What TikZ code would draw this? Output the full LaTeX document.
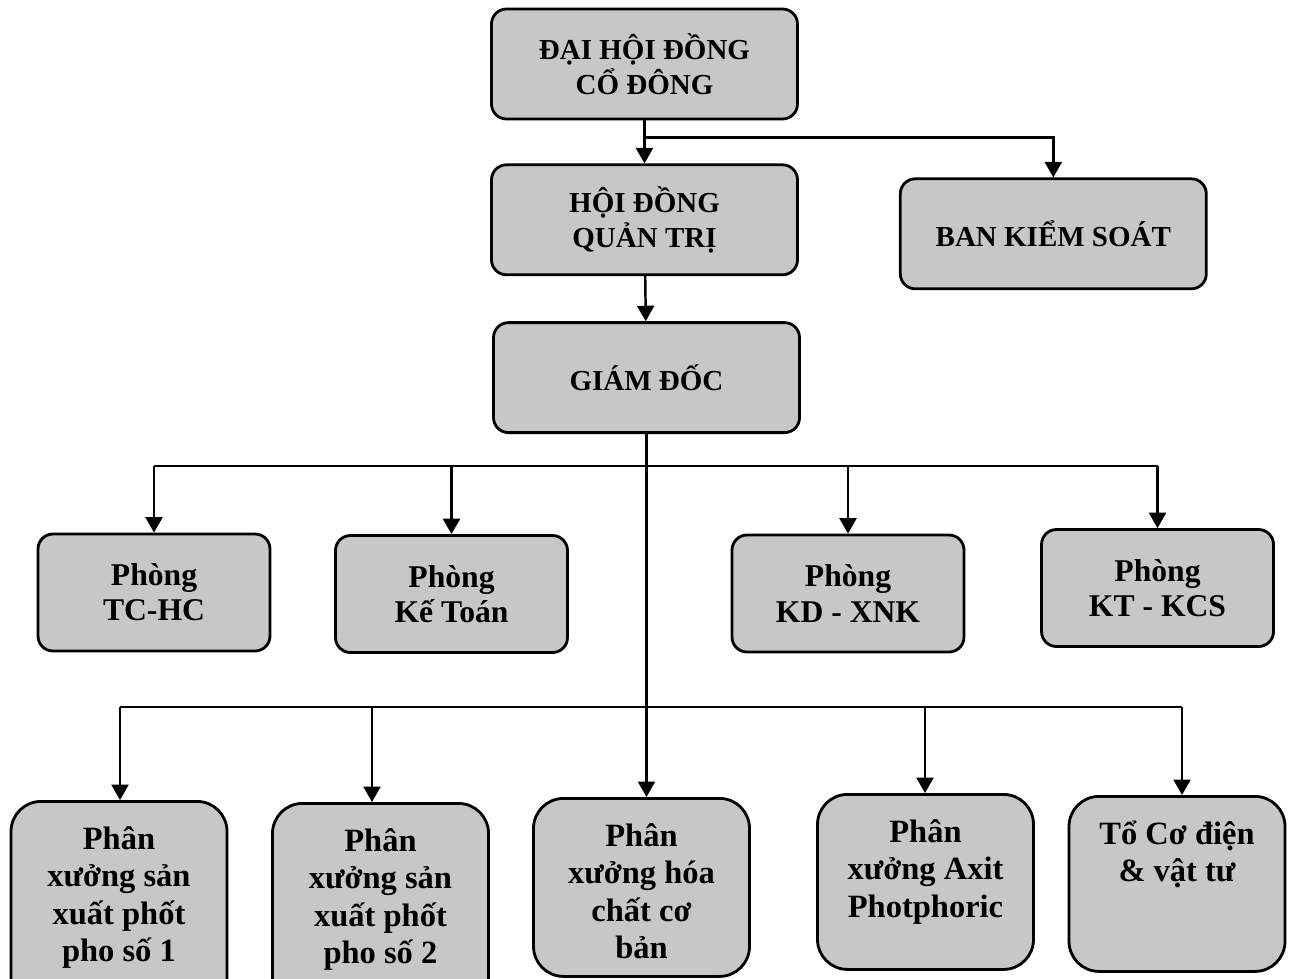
\documentclass[tikz,border=0pt]{standalone}
\usepackage{fontspec}
\setmainfont{Liberation Serif}
\usepackage{tikz}
\usetikzlibrary{positioning, arrows.meta}

\newcommand{\unittext}[2][3.52cm]{\parbox[c][#1][t]{4.32cm}{\centering\rule{0pt}{0.96cm}#2}}

\begin{document}
\begin{tikzpicture}[
    node distance=0.86cm and 2cm,
    topbox/.style={rectangle, draw, line width=1.6pt, rounded corners=0.3cm, fill=black!22, minimum width=6.12cm, minimum height=2.2cm, align=center, font=\fontsize{16.5}{20}\selectfont\bfseries},
    roombox/.style={rectangle, draw, line width=1.6pt, rounded corners=0.3cm, fill=black!22, minimum width=4.64cm, minimum height=2.34cm, align=center, font=\fontsize{18}{20}\selectfont\bfseries},
    unitbox/.style={rectangle, draw, line width=1.6pt, rounded corners=0.6cm, fill=black!22, anchor=north, inner sep=0pt, font=\fontsize{18.5}{21.3}\selectfont\bfseries},
    arr/.style={-{Triangle[length=3.1mm, width=3.4mm]}, line width=1.4pt},
    bus/.style={line width=1.4pt},
]
\useasboundingbox (0,0) rectangle (26.1,-19.56);
\clip (0,0) rectangle (26.1,-19.56);

% --- Board level ---
\node[topbox] (dhdcd) at (12.89,-1.28) {ĐẠI HỘI ĐỒNG\\CỔ ĐÔNG};
\node[topbox, below=of dhdcd] (hdqt) {HỘI ĐỒNG\\QUẢN TRỊ};
\node[topbox, right=of hdqt, yshift=-0.28cm] (bks) {BAN KIỂM SOÁT};
\node[topbox, below=0.9cm of hdqt, xshift=0.04cm] (gd) {GIÁM ĐỐC};

% --- Departments ---
\node[roombox] (tchc) at (3.08,-11.85) {Phòng\\TC-HC};
\node[roombox] (ketoan) at (9.03,-11.88) {Phòng\\Kế Toán};
\node[roombox] (kdxnk) at (16.96,-11.87) {Phòng\\KD - XNK};
\node[roombox] (ktkcs) at (23.15,-11.76) {Phòng\\KT - KCS};

% --- Workshops ---
\node[unitbox] (px1) at (2.38,-16.0) {\unittext[4.2cm]{Phân\\xưởng sản\\xuất phốt\\pho số 1}};
\node[unitbox] (px2) at (7.61,-16.04) {\unittext[4.2cm]{Phân\\xưởng sản\\xuất phốt\\pho số 2}};
\node[unitbox] (px3) at (12.83,-15.94) {\unittext[3.56cm]{Phân\\xưởng hóa\\chất cơ\\bản}};
\node[unitbox] (px4) at (18.51,-15.86) {\unittext[3.5cm]{Phân\\xưởng Axit\\Photphoric}};
\node[unitbox] (codien) at (23.54,-15.9) {\unittext[3.5cm]{Tổ Cơ điện\\\& vật tư}};

% --- Arrows ---
\draw[arr] (dhdcd) -- (hdqt);
\draw[arr] ([yshift=-0.34cm]dhdcd.south) -| (bks);
\draw[arr] (hdqt) -- (gd);

\coordinate (bus1) at ([yshift=-0.64cm]gd.south);
\draw[bus] (tchc |- bus1) -- (ktkcs |- bus1);
\draw[arr] (tchc |- bus1) -- (tchc);
\draw[arr] (ketoan |- bus1) -- (ketoan);
\draw[arr] (kdxnk |- bus1) -- (kdxnk);
\draw[arr] (ktkcs |- bus1) -- (ktkcs);

\draw[arr] (gd.south) -- (gd.south |- px3.north);

\coordinate (b1) at (2.4,-14.14);
\coordinate (b2) at (7.44,-14.14);
\coordinate (b4) at (18.5,-14.14);
\coordinate (b5) at (23.64,-14.14);
\draw[bus] (b1) -- (b5);
\draw[arr] (b1) -- (b1 |- px1.north);
\draw[arr] (b2) -- (b2 |- px2.north);
\draw[arr] (b4) -- (b4 |- px4.north);
\draw[arr] (b5) -- (b5 |- codien.north);
\end{tikzpicture}
\end{document}
